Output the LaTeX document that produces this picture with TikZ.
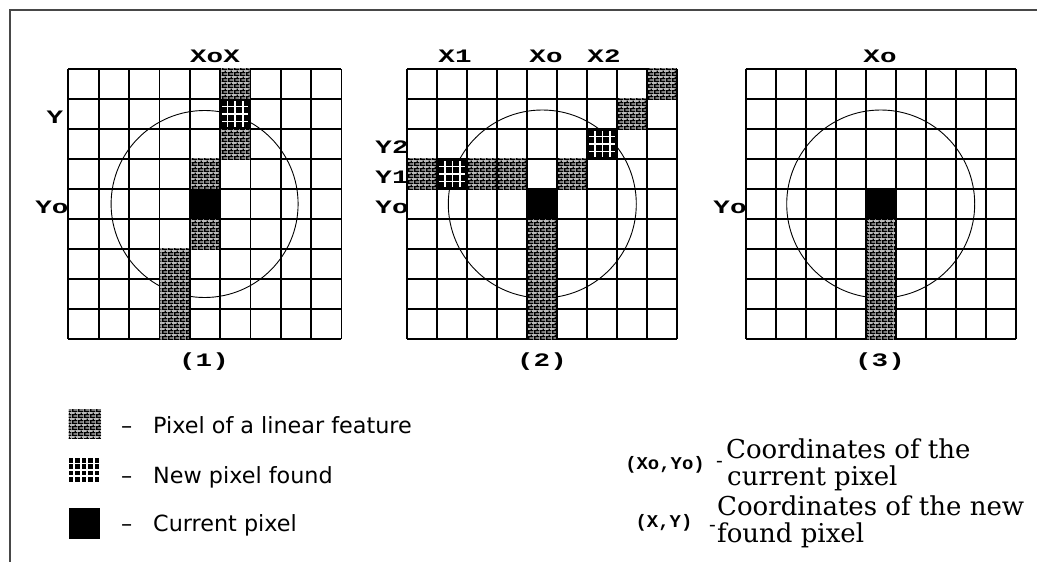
\documentclass[tikz,border=0pt]{standalone}
\usepackage{fontspec}
\usetikzlibrary{patterns}
\newfontfamily\legendsans{DejaVu Sans}
\newfontfamily\notefont{DejaVu Serif}
\newfontfamily\pixfont{Liberation Mono}[FakeStretch=1.45]
\newfontfamily\pixnarrow{Liberation Mono}[FakeStretch=1.05]

% fine woven texture used for the pixels of a linear feature
\pgfdeclarepatternformonly{weave}{\pgfpointorigin}{\pgfpoint{6pt}{6pt}}{\pgfpoint{6pt}{6pt}}{%
  \pgfpathrectangle{\pgfpoint{0pt}{0pt}}{\pgfpoint{6pt}{1.5pt}}%
  \pgfpathrectangle{\pgfpoint{0pt}{1.4pt}}{\pgfpoint{1.5pt}{1.7pt}}%
  \pgfpathrectangle{\pgfpoint{0pt}{3pt}}{\pgfpoint{6pt}{1.5pt}}%
  \pgfpathrectangle{\pgfpoint{3pt}{4.4pt}}{\pgfpoint{1.5pt}{1.7pt}}%
  \pgfusepath{fill}}

\tikzset{
  gridline/.style={line width=1.7pt, black},
  frameline/.style={line width=2pt, black!72},
  ring/.style={line width=0.9pt, black},
  weavebase/.style={fill=black!28},
  pixlabel/.style={font=\pixfont\bfseries\fontsize{19}{19}\selectfont, inner sep=0pt},
  pixpair/.style={font=\pixnarrow\bfseries\fontsize{18}{18}\selectfont, inner sep=0pt},
  legendtext/.style={font=\legendsans\fontsize{22.3}{26}\selectfont, inner sep=0pt, anchor=base west},
  notetext/.style={font=\notefont\fontsize{26}{27}\selectfont, inner sep=0pt, anchor=base west},
  notedash/.style={font=\notefont\fontsize{20}{20}\selectfont, inner sep=0pt, anchor=base west},
}

% 9 x 9 grid: #1 = left edge, #2 = cell width
\newcommand\gridpanel[2]{%
  \foreach \i in {0,...,9} {
    \draw[gridline] ({#1+\i*#2},69) -- ({#1+\i*#2},339);
    \draw[gridline] (#1,{69+\i*30}) -- ({#1+9*#2},{69+\i*30});
  }}
% pixel of a linear feature: #1 left, #2 cell width, #3 column, #4 row
\newcommand\linpix[4]{%
  \fill[weavebase] ({#1+#3*#2+0.9},{69+#4*30-0.8}) rectangle ({#1+(#3+1)*#2-0.9},{69+(#4+1)*30+0.8});
  \fill[pattern=weave] ({#1+#3*#2+0.9},{69+#4*30-0.8}) rectangle ({#1+(#3+1)*#2-0.9},{69+(#4+1)*30+0.8});}
% newly found pixel
\newcommand\newpix[4]{%
  \fill[black] ({#1+#3*#2},{69+#4*30}) rectangle ({#1+(#3+1)*#2},{69+(#4+1)*30});
  \foreach \k in {1,2,3} {
    \draw[white, line width=1.5pt] ({#1+(#3+\k/4)*#2},{69+#4*30+2}) -- ({#1+(#3+\k/4)*#2},{69+(#4+1)*30-2});
    \draw[white, line width=1.5pt] ({#1+#3*#2+2},{69+#4*30+\k*7.5}) -- ({#1+(#3+1)*#2-2},{69+#4*30+\k*7.5});
  }}
% current pixel
\newcommand\curpix[4]{%
  \fill[black] ({#1+#3*#2},{69+#4*30}) rectangle ({#1+(#3+1)*#2},{69+(#4+1)*30});}

\begin{document}
\begin{tikzpicture}[x=1pt, y=-1pt]
\useasboundingbox (0,0) rectangle (1037,562);
\fill[white] (0,0) rectangle (1037,562);

% frame
\draw[frameline] (10,562) -- (10,10) -- (1037,10);

% ---------- panel (1) ----------
\gridpanel{68.3}{30.35}
\draw[ring] (204.6,204) circle (93.5);
\foreach \c/\r in {5/0,5/2,4/3,4/5,3/6,3/7,3/8} {\linpix{68.3}{30.35}{\c}{\r}}
\newpix{68.3}{30.35}{5}{1}
\curpix{68.3}{30.35}{4}{4}
\node[pixlabel] (p1x)  at (215,56)  {XoX};
\node[pixlabel] (p1y)  at (55,117)  {Y};
\node[pixlabel] (p1yo) at (52,207)  {Yo};
\node[pixlabel] (p1n)  at (204,362) {(1)};

% ---------- panel (2) ----------
\gridpanel{407.3}{30}
\draw[ring] (542.3,204) circle (94);
\foreach \c/\r in {8/0,7/1,0/3,2/3,3/3,5/3,4/5,4/6,4/7,4/8} {\linpix{407.3}{30}{\c}{\r}}
\newpix{407.3}{30}{6}{2}
\newpix{407.3}{30}{1}{3}
\curpix{407.3}{30}{4}{4}
\node[pixlabel] (p2x1) at (455,56)  {X1};
\node[pixlabel] (p2xo) at (546,56)  {Xo};
\node[pixlabel] (p2x2) at (604,56)  {X2};
\node[pixlabel] (p2y2) at (392,147) {Y2};
\node[pixlabel] (p2y1) at (392,177) {Y1};
\node[pixlabel] (p2yo) at (392,207) {Yo};
\node[pixlabel] (p2n)  at (542,362) {(2)};

% ---------- panel (3) ----------
\gridpanel{745.7}{30}
\draw[ring] (880.7,204) circle (94);
\foreach \c/\r in {4/5,4/6,4/7,4/8} {\linpix{745.7}{30}{\c}{\r}}
\curpix{745.7}{30}{4}{4}
\node[pixlabel] (p3xo) at (880,56)  {Xo};
\node[pixlabel] (p3yo) at (730,207) {Yo};
\node[pixlabel] (p3n)  at (880,362) {(3)};

% ---------- key ----------
\fill[weavebase] (68.7,409) rectangle (101,438);
\fill[pattern=weave] (68.7,409) rectangle (101,438);
\foreach \i in {0,...,4} \foreach \j in {0,...,3}
  \fill[black] ({68.7+\i*6.5},{458+\j*6.4}) rectangle ({68.7+\i*6.5+4.6},{458+\j*6.4+4.6});
\fill[black] (68.7,508) rectangle (100.3,538.7);

\node[legendtext] (k1d) at (121,433.7) {–};
\node[legendtext] (k1)  at (153,433.7) {Pixel of a linear feature};
\node[legendtext] (k2d) at (121,483.3) {–};
\node[legendtext] (k2)  at (153,483.3) {New pixel found};
\node[legendtext] (k3d) at (121,531.7) {–};
\node[legendtext] (k3)  at (153,531.7) {Current pixel};

\node[pixpair] (c1) at (665,465) {(Xo,Yo)};
\node[notedash] (c1d) at (716,467) {-};
\node[notetext] (c1a) at (726,458) {Coordinates of the};
\node[notetext] (c1b) at (727,485) {current pixel};

\node[pixpair] (c2) at (664,523) {(X,Y)};
\node[notedash] (c2d) at (709,531) {-};
\node[notetext] (c2a) at (717,515) {Coordinates of the new};
\node[notetext] (c2b) at (717,542) {found pixel};
\end{tikzpicture}
\end{document}
